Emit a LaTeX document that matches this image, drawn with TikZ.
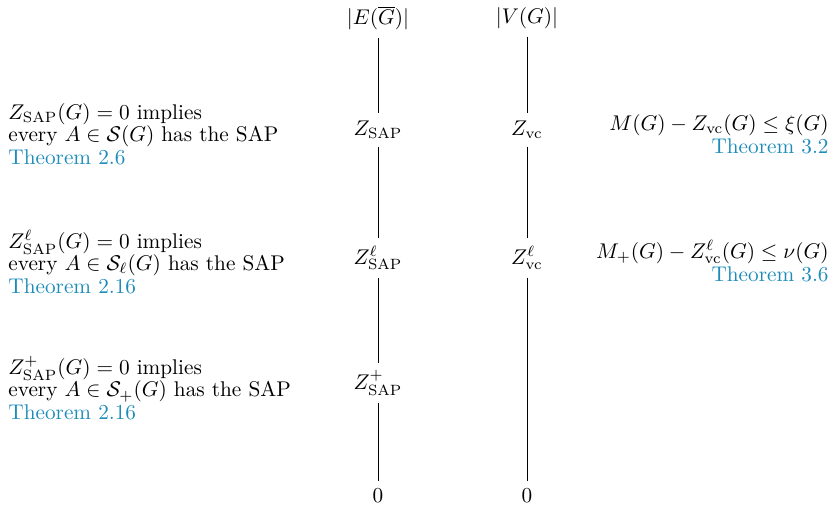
\documentclass[tikz,border=0pt]{standalone}
\usepackage{amsmath,amssymb}
\definecolor{thmblue}{RGB}{30,140,185}
\begin{document}
\begin{tikzpicture}[x=0.47pt,y=-0.47pt,
  val/.style={inner sep=3.5pt},
  note/.style={align=left, anchor=west, inner sep=0pt,
    font={\fontsize{10}{10.6}\selectfont\lineskiplimit=-20pt}},
  rnote/.style={align=right, anchor=east, inner sep=0pt,
    font={\fontsize{10}{10.6}\selectfont\lineskiplimit=-20pt}},
  link/.style={line width=0.45pt}]
\useasboundingbox (0,0) rectangle (833,509);

% column 1
\node[val] (e)  at (378,18)  {$|E(\overline{G})|$};
\node[val] (zs) at (378,130) {$Z_{\mathrm{SAP}}$};
\node[val] (zl) at (378,258) {$Z^{\ell}_{\mathrm{SAP}}$};
\node[val] (zp) at (378,383) {$Z^{+}_{\mathrm{SAP}}$};
\node[val] (z1) at (378,496) {$0$};

% column 2
\node[val] (v)  at (527,18)  {$|V(G)|$};
\node[val] (zv) at (527,130) {$Z_{\mathrm{vc}}$};
\node[val] (zvl) at (527,258) {$Z^{\ell}_{\mathrm{vc}}$};
\node[val] (z2) at (527,496) {$0$};

\draw[link] (e) -- (zs);
\draw[link] (zs) -- (zl);
\draw[link] (zl) -- (zp);
\draw[link] (zp) -- (z1);
\draw[link] (v) -- (zv);
\draw[link] (zv) -- (zvl);
\draw[link] (zvl) -- (z2);

% left notes
\node[note] (n1) at (8,134) {$Z_{\mathrm{SAP}}(G)=0$ implies\\ every $A\in\mathcal{S}(G)$ has the SAP\\ \textcolor{thmblue}{Theorem 2.6}};
\node[note] (n2) at (8,262) {$Z^{\ell}_{\mathrm{SAP}}(G)=0$ implies\\ every $A\in\mathcal{S}_{\ell}(G)$ has the SAP\\ \textcolor{thmblue}{Theorem 2.16}};
\node[note] (n3) at (8,388) {$Z^{+}_{\mathrm{SAP}}(G)=0$ implies\\ every $A\in\mathcal{S}_{+}(G)$ has the SAP\\ \textcolor{thmblue}{Theorem 2.16}};

% right notes
\node[rnote] (r1) at (829,134) {$M(G)-Z_{\mathrm{vc}}(G)\le\xi(G)$\\ \textcolor{thmblue}{Theorem 3.2}};
\node[rnote] (r2) at (829,261) {$M_{+}(G)-Z^{\ell}_{\mathrm{vc}}(G)\le\nu(G)$\\ \textcolor{thmblue}{Theorem 3.6}};
\end{tikzpicture}
\end{document}
